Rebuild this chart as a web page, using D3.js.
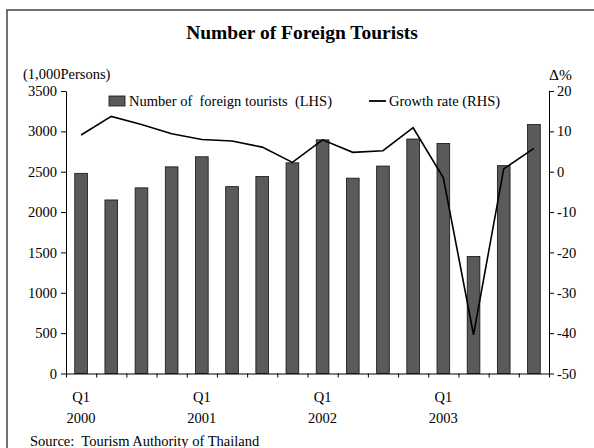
<!DOCTYPE html>
<html>
<head>
<meta charset="utf-8">
<script src="https://cdn.jsdelivr.net/npm/d3@7"></script>
<style>
	body { margin: 0; background: #fff; }
	svg { display: block; }
	text { font-family: "Liberation Serif", "Times New Roman", serif; fill: #000; }
	.axis path, .axis line { stroke: #000; stroke-width: 1; }
</style>
</head>
<body>
<svg id="chart" width="594" height="448"></svg>
<script>
// quarterly data, 2000Q1 .. 2003Q4
var quarters = ["2000Q1","2000Q2","2000Q3","2000Q4","2001Q1","2001Q2","2001Q3","2001Q4",
	"2002Q1","2002Q2","2002Q3","2002Q4","2003Q1","2003Q2","2003Q3","2003Q4"];
var tourists = [2480, 2150, 2300, 2560, 2685, 2315, 2440, 2610, 2895, 2420, 2570, 2905, 2850, 1450, 2575, 3085];
var growth = [9.1, 13.7, 11.7, 9.4, 8.0, 7.6, 6.1, 2.3, 7.9, 4.8, 5.2, 10.9, -1.5, -40.4, 0.7, 5.8];
var leftTicks = [0, 500, 1000, 1500, 2000, 2500, 3000, 3500];
var rightTicks = [-50, -40, -30, -20, -10, 0, 10, 20];
var yearLabels = {"2000Q1":"2000", "2001Q1":"2001", "2002Q1":"2002", "2003Q1":"2003"};

var svg = d3.select("#chart");
var plot = {left: 66, right: 549, top: 91, bottom: 373.5};
var fs = "14.5px";

// frame
svg.append("path")
	.attr("d", "M7,460 L7,10 L600,10")
	.attr("fill", "none")
	.attr("stroke", "#444")
	.attr("stroke-width", 1.5);

svg.append("text")
	.attr("x", 302).attr("y", 39)
	.attr("text-anchor", "middle")
	.style("font-size", "19.5px").style("font-weight", "bold")
	.text("Number of Foreign Tourists");

var x = d3.scaleBand().domain(quarters).range([plot.left, plot.right]).paddingInner(0.58).paddingOuter(0.29);
var xEdge = d3.scaleLinear().domain([0, quarters.length]).range([plot.left, plot.right]);
var yL = d3.scaleLinear().domain([0, 3500]).range([plot.bottom, plot.top]);
var yR = d3.scaleLinear().domain([-50, 20]).range([plot.bottom, plot.top]);

// bars
svg.append("g").selectAll("rect")
	.data(quarters)
	.enter().append("rect")
	.attr("x", function(d) { return x(d); })
	.attr("width", x.bandwidth())
	.attr("y", function(d, i) { return yL(tourists[i]); })
	.attr("height", function(d, i) { return yL(0) - yL(tourists[i]); })
	.attr("fill", "#5a5a5a")
	.attr("stroke", "#111")
	.attr("stroke-width", 0.8);

// axes
svg.append("g")
	.attr("class", "axis")
	.attr("transform", "translate(0," + plot.bottom + ")")
	.call(d3.axisBottom(xEdge).tickValues(d3.range(quarters.length + 1)).tickFormat("").tickSizeInner(4).tickSizeOuter(0));

var ax = svg.append("g")
	.attr("class", "axis")
	.attr("transform", "translate(" + plot.left + ",0)")
	.call(d3.axisLeft(yL).tickValues(leftTicks).tickFormat(String).tickSizeInner(5).tickSizeOuter(0).tickPadding(4));
ax.selectAll("text").style("font-size", fs).style("font-family", "Liberation Serif");

var axR = svg.append("g")
	.attr("class", "axis")
	.attr("transform", "translate(" + plot.right + ",0)")
	.call(d3.axisRight(yR).tickValues(rightTicks).tickFormat(String).tickSizeInner(5).tickSizeOuter(0).tickPadding(3));
axR.selectAll("text").style("font-size", fs).style("font-family", "Liberation Serif");

// growth line
var line = d3.line()
	.x(function(d, i) { return x(quarters[i]) + x.bandwidth() / 2; })
	.y(function(d) { return yR(d); });

svg.append("path")
	.datum(growth)
	.attr("d", line)
	.attr("fill", "none")
	.attr("stroke", "#000")
	.attr("stroke-width", 1.6);

// x labels
var xl = svg.append("g").selectAll("g")
	.data(quarters.filter(function(q) { return yearLabels[q] != undefined; }))
	.enter().append("g");
xl.append("text")
	.attr("x", function(d) { return x(d) + x.bandwidth() / 2; })
	.attr("y", 401.5)
	.attr("text-anchor", "middle")
	.style("font-size", fs)
	.text("Q1");
xl.append("text")
	.attr("x", function(d) { return x(d) + x.bandwidth() / 2; })
	.attr("y", 422.5)
	.attr("text-anchor", "middle")
	.style("font-size", fs)
	.text(function(d) { return yearLabels[d]; });

// unit labels
svg.append("text").attr("x", 23).attr("y", 79).style("font-size", fs).text("(1,000Persons)");
svg.append("text").attr("x", 549).attr("y", 80).style("font-size", "15.5px").text("Δ%");

// legend
svg.append("rect").attr("x", 109).attr("y", 96).attr("width", 16).attr("height", 10)
	.attr("fill", "#5a5a5a").attr("stroke", "#111").attr("stroke-width", 0.8);
svg.append("text").attr("x", 129).attr("y", 105.5).style("font-size", fs)
	.style("white-space", "pre").attr("xml:space", "preserve")
	.text("Number of  foreign tourists  (LHS)");
svg.append("line").attr("x1", 369).attr("x2", 386).attr("y1", 101).attr("y2", 101)
	.attr("stroke", "#000").attr("stroke-width", 1.8);
svg.append("text").attr("x", 389).attr("y", 105.5).style("font-size", fs).text("Growth rate (RHS)");

// source
svg.append("text").attr("x", 30).attr("y", 446).style("font-size", fs)
	.style("white-space", "pre").attr("xml:space", "preserve")
	.text("Source:  Tourism Authority of Thailand");
</script>
</body>
</html>
